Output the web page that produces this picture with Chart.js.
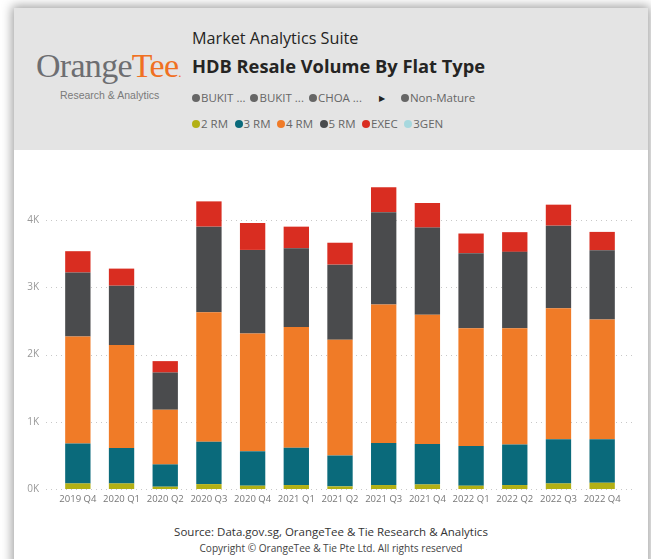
<!DOCTYPE html>
<html>
<head>
<meta charset="utf-8">
<script src="https://cdn.jsdelivr.net/npm/chart.js@4.4.1/dist/chart.umd.min.js"></script>
<style>
  html, body { margin: 0; padding: 0; background: #fff; overflow: hidden; }
  body { width: 651px; height: 559px; position: relative; font-family: "Open Sans", sans-serif; }
  #card {
    position: absolute; left: 14px; top: 8px; width: 634px; height: 560px;
    background: #fff; box-shadow: 0 0 10px 2px rgba(0, 0, 0, 0.38);
  }
  #header { position: absolute; left: 0; top: 0; width: 634px; height: 142px; background: #e4e4e4; }
  .abs { position: absolute; white-space: nowrap; line-height: 1; }
  #logo { left: 22px; top: 41px; font-family: "Liberation Serif", serif; font-size: 34px; letter-spacing: -0.7px; color: #6d6e71; }
  #logo .tee { color: #f07022; }
  #logo .dot { font-size: 13px; color: #f07022; letter-spacing: 0; }
  #tagline { left: 46px; top: 82px; font-family: "Liberation Sans", sans-serif; font-size: 10.5px; color: #7a7a7a; }
  #suite { left: 178px; top: 22px; font-size: 16.2px; color: #252423; }
  #title { left: 178px; top: 49px; font-size: 18.3px; font-weight: 700; color: #252423; }
  .legend { font-size: 11.5px; color: #666; display: flex; align-items: center; }
  .legend .item { display: flex; align-items: center; margin-right: 5px; }
  #legend2 .item { margin-right: 6.5px; }
  .legend .sw { width: 8px; height: 8px; border-radius: 50%; margin-right: 1px; }
  #legend1 { left: 178px; top: 84px; }
  #legend2 { left: 178px; top: 110px; }
  .arrow { font-size: 8px; color: #222; margin: 0 16px 0 12px; }
  #chartBar { position: absolute; left: 0; top: 142px; width: 634px; height: 362px; }
  #source { left: 0; width: 634px; text-align: center; top: 518px; font-size: 11.5px; color: #333; }
  #copy { left: 0; width: 634px; text-align: center; top: 535px; font-size: 10.1px; color: #444; }
</style>
</head>
<body>
<div id="card">
  <div id="header">
    <div id="logo" class="abs">Orange<span class="tee">Tee</span><span class="dot">.</span></div>
    <div id="tagline" class="abs">Research &amp; Analytics</div>
    <div id="suite" class="abs">Market Analytics Suite</div>
    <div id="title" class="abs">HDB Resale Volume By Flat Type</div>
    <div id="legend1" class="abs legend"></div>
    <div id="legend2" class="abs legend"></div>
  </div>
  <canvas id="chartBar" width="634" height="362"></canvas>
  <div id="source" class="abs">Source: Data.gov.sg, OrangeTee &amp; Tie Research &amp; Analytics</div>
  <div id="copy" class="abs">Copyright © OrangeTee &amp; Tie Pte Ltd. All rights reserved</div>
</div>

<script>
const quarters = ["2019 Q4", "2020 Q1", "2020 Q2", "2020 Q3", "2020 Q4", "2021 Q1", "2021 Q2",
    "2021 Q3", "2021 Q4", "2022 Q1", "2022 Q2", "2022 Q3", "2022 Q4"];

const twoRm   = [83, 83, 34, 73, 49, 59, 39, 59, 68, 49, 59, 83, 93];
const threeRm = [595, 527, 332, 629, 512, 556, 459, 624, 600, 590, 604, 658, 648];
const fourRm  = [1590, 1531, 814, 1927, 1751, 1795, 1722, 2063, 1922, 1751, 1727, 1947, 1781];
const fiveRm  = [952, 883, 552, 1273, 1244, 1170, 1117, 1371, 1298, 1117, 1137, 1229, 1029];
const exec    = [317, 254, 170, 376, 400, 322, 326, 371, 366, 293, 293, 312, 273];
const threeGen = [0, 0, 0, 0, 0, 0, 0, 0, 0, 0, 0, 0, 0];

const flatTypes = ["2 RM", "3 RM", "4 RM", "5 RM", "EXEC", "3GEN"];
const flatColors = ["#b3b015", "#0a6a7b", "#f07b27", "#4a4b4d", "#d92d21", "#a7d8de"];
const townFilters = ["BUKIT ...", "BUKIT ...", "CHOA ..."];

const yTicks = [0, 1000, 2000, 3000, 4000];

// header legends
const legend1 = document.getElementById("legend1");
townFilters.forEach(function (name) {
    legend1.insertAdjacentHTML("beforeend",
        '<span class="item"><span class="sw" style="background:#666"></span>' + name + "</span>");
});
legend1.insertAdjacentHTML("beforeend", '<span class="arrow">&#9654;</span>');
legend1.insertAdjacentHTML("beforeend",
    '<span class="item"><span class="sw" style="background:#666"></span>Non-Mature</span>');

const legend2 = document.getElementById("legend2");
flatTypes.forEach(function (name, i) {
    legend2.insertAdjacentHTML("beforeend",
        '<span class="item"><span class="sw" style="background:' + flatColors[i] + '"></span>' + name + "</span>");
});

// dotted grid lines that run a little past the plot area
const dottedGrid = {
    id: "dottedGrid",
    beforeDatasetsDraw(chart) {
        const ctx = chart.ctx;
        const area = chart.chartArea;
        const y = chart.scales.y;
        ctx.save();
        ctx.strokeStyle = "#c8c8c8";
        ctx.lineWidth = 1;
        ctx.setLineDash([1, 4]);
        yTicks.forEach(function (v) {
            const py = Math.round(y.getPixelForValue(v)) + 0.5;
            ctx.beginPath();
            ctx.moveTo(area.left - 10, py);
            ctx.lineTo(area.right + 10, py);
            ctx.stroke();
        });
        ctx.restore();
    },
};

const seriesValues = [twoRm, threeRm, fourRm, fiveRm, exec, threeGen];

const dataBarChart = {
    labels: quarters,
    datasets: seriesValues.map(function (values, i) {
        return {
            label: flatTypes[i],
            data: values,
            backgroundColor: flatColors[i],
            borderWidth: 0,
            categoryPercentage: 1,
            barPercentage: 0.58,
        };
    }),
};

Chart.defaults.font.family = "'Open Sans', sans-serif";

const configBarChart = {
    type: "bar",
    data: dataBarChart,
    plugins: [dottedGrid],
    options: {
        responsive: false,
        animation: false,
        layout: { padding: { top: 15, right: 24, left: 0, bottom: 0 } },
        plugins: { legend: { display: false }, tooltip: { enabled: false } },
        scales: {
            x: {
                stacked: true,
                grid: { display: false, drawTicks: false },
                border: { display: false },
                ticks: { color: "#777", font: { size: 9.5 }, padding: 5, maxRotation: 0, autoSkip: false },
                afterFit: function (s) { s.height = 19; },
            },
            y: {
                stacked: true,
                min: 0,
                max: 4700,
                grid: { display: false, drawTicks: false },
                border: { display: false },
                afterBuildTicks: function (s) {
                    s.ticks = yTicks.map(function (v) { return { value: v }; });
                },
                ticks: {
                    color: "#999",
                    font: { size: 10 },
                    padding: 17,
                    callback: function (v) { return v / 1000 + "K"; },
                },
                afterFit: function (s) { s.width = 42; },
            },
        },
    },
};

let chartBar = new Chart(document.getElementById("chartBar"), configBarChart);
</script>
</body>
</html>
